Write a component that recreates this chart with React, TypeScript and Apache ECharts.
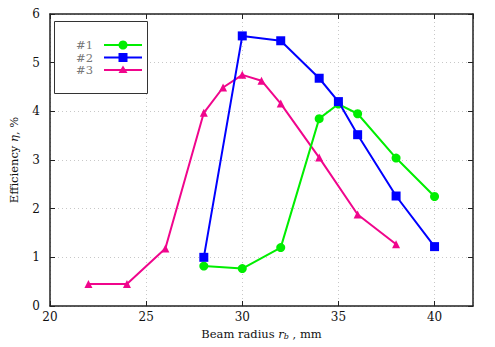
import React, { useEffect, useRef } from "react";
import * as echarts from "echarts";

const x1 = [28, 30, 32, 34, 35, 36, 38, 40];
const y1 = [0.82, 0.77, 1.2, 3.85, 4.15, 3.95, 3.04, 2.25];
const x2 = [28, 30, 32, 34, 35, 36, 38, 40];
const y2 = [1.0, 5.55, 5.45, 4.68, 4.2, 3.52, 2.26, 1.22];
const x3 = [22, 24, 26, 28, 29, 30, 31, 32, 34, 36, 38];
const y3 = [0.45, 0.45, 1.18, 3.97, 4.49, 4.75, 4.63, 4.16, 3.05, 1.88, 1.27];
const names = ["#1", "#2", "#3"];
const colors = ["#00ee00", "#0000ff", "#f0058c"];

const FONT = "DejaVu Serif";

export default function App() {
  const ref = useRef<HTMLDivElement>(null);
  useEffect(() => {
    if (!ref.current) return;
    const chart = echarts.init(ref.current, undefined, { renderer: "svg" });
    const pair = (xs: number[], ys: number[]) => xs.map((x, i) => [x, ys[i]]);
    const axisCommon = {
      axisLine: { show: true, onZero: false, lineStyle: { color: "#222", width: 1.5 } },
      axisTick: { show: true, inside: true, length: 5, lineStyle: { color: "#222", width: 1 } },
    };
    const legendY = [45, 57.5, 70];
    const legendGraphics: any[] = [
      {
        type: "rect",
        shape: { x: 54.5, y: 21.5, width: 93, height: 72 },
        style: { fill: "#fff", stroke: "#333", lineWidth: 1 },
        z: 10,
      },
    ];
    names.forEach((n, i) => {
      const y = legendY[i];
      legendGraphics.push({
        type: "text",
        x: 93,
        y,
        style: { text: n, fontFamily: FONT, fontSize: 11.5, fill: "#777", align: "right", verticalAlign: "middle" },
        z: 11,
      });
      legendGraphics.push({
        type: "line",
        shape: { x1: 104, y1: y, x2: 142, y2: y },
        style: { stroke: colors[i], lineWidth: 2 },
        z: 11,
      });
    });
    legendGraphics.push({ type: "circle", shape: { cx: 123, cy: legendY[0], r: 4.5 }, style: { fill: colors[0] }, z: 12 });
    legendGraphics.push({ type: "rect", shape: { x: 118.5, y: legendY[1] - 4.5, width: 9, height: 9 }, style: { fill: colors[1] }, z: 12 });
    legendGraphics.push({
      type: "polygon",
      shape: { points: [[123, legendY[2] - 4.5], [127.5, legendY[2] + 3], [118.5, legendY[2] + 3]] },
      style: { fill: colors[2] },
      z: 12,
    });

    chart.setOption({
      animation: false,
      backgroundColor: "#fff",
      textStyle: { fontFamily: FONT },
      grid: { left: 47, right: 22, top: 14, bottom: 41, containLabel: false },
      graphic: legendGraphics,
      xAxis: [
        {
          type: "value",
          min: 20,
          max: 42,
          interval: 5,
          position: "bottom",
          ...axisCommon,
          axisLabel: { showMaxLabel: false, color: "#111", fontSize: 12, fontFamily: FONT, margin: 5 },
          splitLine: { show: true, lineStyle: { color: "#c8c8c8", type: [1, 3], width: 1 } },
          name: "{a|Beam radius }{i|r}{s|b}{a| , mm}",
          nameLocation: "middle",
          nameGap: 19,
          nameTextStyle: {
            color: "#111",
            fontFamily: FONT,
            fontSize: 11.5,
            rich: {
              a: { fontSize: 11.5, fontFamily: FONT, color: "#111" },
              i: { fontSize: 11.5, fontFamily: FONT, fontStyle: "italic", color: "#111" },
              s: { fontSize: 8, fontFamily: FONT, fontStyle: "italic", color: "#111", verticalAlign: "bottom", padding: [6, 0, 0, 0] },
            },
          },
        },
        {
          type: "value",
          min: 20,
          max: 42,
          interval: 5,
          position: "top",
          ...axisCommon,
          axisLabel: { show: false },
          splitLine: { show: false },
        },
      ],
      yAxis: [
        {
          type: "value",
          min: 0,
          max: 6,
          interval: 1,
          position: "left",
          ...axisCommon,
          axisLabel: { color: "#111", fontSize: 12, fontFamily: FONT, margin: 10 },
          splitLine: { show: true, lineStyle: { color: "#c8c8c8", type: [1, 3], width: 1 } },
          name: "{a|Efficiency }{i|η}{a|, %}",
          nameLocation: "middle",
          nameGap: 30,
          nameTextStyle: {
            color: "#111",
            fontFamily: FONT,
            fontSize: 11.5,
            rich: {
              a: { fontSize: 11.5, fontFamily: FONT, color: "#111" },
              i: { fontSize: 11.5, fontFamily: FONT, fontStyle: "italic", color: "#111" },
            },
          },
        },
        {
          type: "value",
          min: 0,
          max: 6,
          interval: 1,
          position: "right",
          ...axisCommon,
          axisLabel: { show: false },
          splitLine: { show: false },
        },
      ],
      series: [
        {
          name: names[0],
          type: "line",
          data: pair(x1, y1),
          symbol: "circle",
          symbolSize: 9,
          itemStyle: { color: colors[0] },
          lineStyle: { color: colors[0], width: 2 },
          z: 3,
        },
        {
          name: names[1],
          type: "line",
          data: pair(x2, y2),
          symbol: "rect",
          symbolSize: 9,
          itemStyle: { color: colors[1] },
          lineStyle: { color: colors[1], width: 2 },
          z: 4,
        },
        {
          name: names[2],
          type: "line",
          data: pair(x3, y3),
          symbol: "triangle",
          symbolSize: 8,
          itemStyle: { color: colors[2] },
          lineStyle: { color: colors[2], width: 2 },
          z: 2,
        },
      ],
    });
    return () => chart.dispose();
  }, []);
  return <div ref={ref} style={{ width: 495, height: 347, position: "absolute", left: 0, top: 0 }} />;
}
